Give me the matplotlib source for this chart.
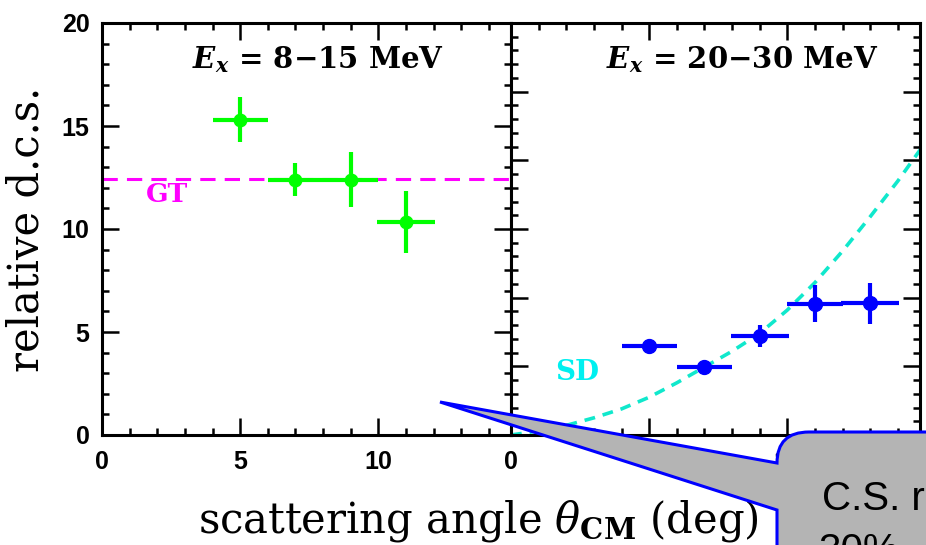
import matplotlib
matplotlib.use("Agg")
import matplotlib.pyplot as plt
from matplotlib.ticker import MultipleLocator, FixedLocator
from matplotlib.path import Path
from matplotlib.patches import PathPatch

plt.rcParams.update({
    "mathtext.fontset": "custom",
    "mathtext.it": "DejaVu Serif:italic",
    "mathtext.bf": "DejaVu Serif:bold",
    "mathtext.rm": "DejaVu Serif",
    "mathtext.bfit": "DejaVu Serif:italic:bold",
})

# --- E_x = 8-15 MeV : relative differential cross sections ---
angles_low = [5, 7, 9, 11]
angle_halfwidth_low = [1.0, 1.0, 1.0, 1.05]
dcs_low = [15.3, 12.4, 12.4, 10.35]
dcs_low_err = [1.1, 0.8, 1.35, 1.5]
gt_level = 12.45

# --- E_x = 20-30 MeV ---
angles_high = [5, 7, 9, 11, 13]
angle_halfwidth_high = [1.0, 1.0, 1.05, 1.0, 1.05]
dcs_high = [1.30, 0.99, 1.44, 1.91, 1.92]
dcs_high_err = [0.05, 0.05, 0.16, 0.27, 0.30]

# spin-dipole reference curve
sd_angles = [0, 1, 2, 3, 4, 5, 6, 7, 8, 9, 10, 11, 12, 13, 14, 14.8]
sd_values = [0.0, 0.06, 0.14, 0.25, 0.38, 0.55, 0.76, 0.99, 1.22, 1.48,
             1.82, 2.22, 2.68, 3.18, 3.70, 4.15]

x_ticklabels = ["0", "5", "10"]
y_ticklabels = ["0", "5", "10", "15", "20"]

W, H = 926, 545
fig = plt.figure(figsize=(W / 100, H / 100), dpi=100)
fig.patch.set_facecolor("white")


def fx(px):
    return px / W


def fy(py):
    return 1 - py / H


ax_l = fig.add_axes([fx(102), fy(435), (511 - 102) / W, (435 - 23) / H])
ax_r = fig.add_axes([fx(511), fy(435), (920 - 511) / W, (435 - 23) / H])

tick_font = dict(family="Liberation Sans", weight="bold", size=18)

for ax in (ax_l, ax_r):
    ax.set_xlim(0, 14.8)
    ax.xaxis.set_major_locator(FixedLocator([0, 5, 10]))
    ax.xaxis.set_minor_locator(MultipleLocator(1))
    ax.set_xticklabels(x_ticklabels, fontdict=tick_font)
    ax.tick_params(which="both", direction="in", top=True, right=True,
                   width=1.8, color="black")
    ax.tick_params(which="major", length=12)
    ax.tick_params(which="minor", length=5)
    ax.tick_params(axis="x", which="major", pad=11)
    ax.tick_params(axis="y", which="major", pad=9)
    for s in ax.spines.values():
        s.set_linewidth(2.2)

ax_l.set_ylim(0, 20)
ax_l.yaxis.set_major_locator(FixedLocator([0, 5, 10, 15, 20]))
ax_l.yaxis.set_minor_locator(MultipleLocator(1))
ax_l.set_yticklabels(y_ticklabels, fontdict=tick_font)

ax_r.set_ylim(0, 6)
ax_r.yaxis.set_major_locator(MultipleLocator(1))
ax_r.yaxis.set_minor_locator(MultipleLocator(0.2))
ax_r.tick_params(axis="y", labelleft=False)

# left panel: GT level and data
ax_l.axhline(gt_level, color="#ff00ff", lw=2.2, ls=(0, (5, 3)), zorder=2)
ax_l.text(1.6, 11.3, "GT", color="#ff00ff", family="DejaVu Serif",
          weight="bold", size=19)
ax_l.errorbar(angles_low, dcs_low, yerr=dcs_low_err, xerr=angle_halfwidth_low,
              fmt="o", color="#00ff00", ms=9, elinewidth=3.0, capsize=0,
              zorder=3)
ax_l.text(0.528, 0.891, r"$\mathbfit{E}_{\mathbfit{x}}$ = 8−15 MeV",
          transform=ax_l.transAxes, ha="center", va="baseline",
          family="DejaVu Serif", weight="bold", size=21)

# right panel: SD curve and data
ax_r.plot(sd_angles, sd_values, color="#10e8cc", lw=2.6, ls=(0, (3, 2.2)),
          zorder=2)
ax_r.text(1.6, 0.80, "SD", color="#00f0f0", family="DejaVu Serif",
          weight="bold", size=20)
ax_r.errorbar(angles_high, dcs_high, yerr=dcs_high_err,
              xerr=angle_halfwidth_high, fmt="o", color="#0000ff", ms=10,
              elinewidth=3.0, capsize=0, zorder=3)
ax_r.text(0.565, 0.891, r"$\mathbfit{E}_{\mathbfit{x}}$ = 20−30 MeV",
          transform=ax_r.transAxes, ha="center", va="baseline",
          family="DejaVu Serif", weight="bold", size=21)

# axis titles
fig.text(fx(27), fy(229), "relative d.c.s.", rotation=90, ha="center",
         va="center", family="DejaVu Serif", size=30)
fig.text(fx(478), fy(533), r"scattering angle $\theta_{\mathbf{CM}}$ (deg)",
         ha="center", va="baseline", family="DejaVu Serif", size=30)

# speech-bubble callout
verts = [(777, 463), (440, 402), (777, 510), (777, 570), (960, 570),
         (960, 432), (809, 432), (777, 432), (777, 463), (777, 463)]
codes = [Path.MOVETO, Path.LINETO, Path.LINETO, Path.LINETO, Path.LINETO,
         Path.LINETO, Path.LINETO, Path.CURVE3, Path.CURVE3, Path.CLOSEPOLY]
bubble = Path([(fx(x), fy(y)) for x, y in verts], codes)
fig.patches.append(PathPatch(bubble, transform=fig.transFigure,
                             facecolor="#b4b4b4", edgecolor="#0000ff",
                             lw=2.2, clip_on=False, zorder=5))
fig.text(fx(822), fy(510), "C.S. r", ha="left", va="baseline",
         family="Liberation Sans", size=29, color="black", zorder=6)
fig.text(fx(818), fy(562), "30%", ha="left", va="baseline",
         family="Liberation Sans", size=29, color="black", zorder=6)

fig.savefig("out.png", dpi=100)
